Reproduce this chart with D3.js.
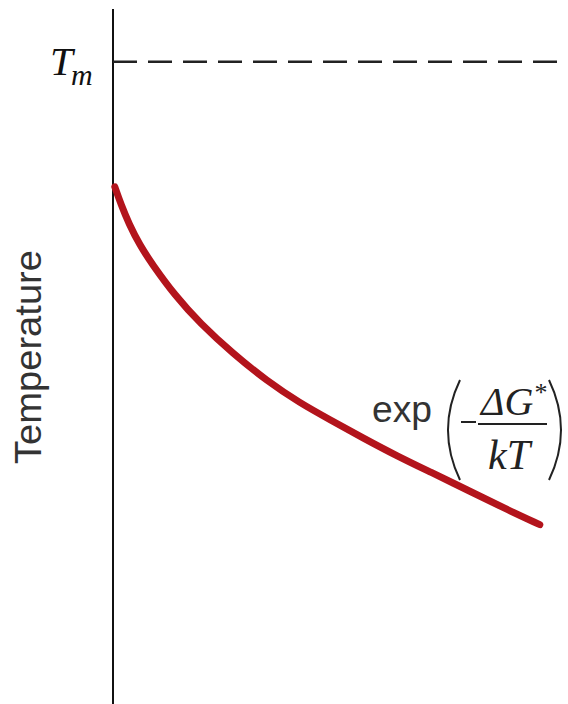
<!DOCTYPE html>
<html>
<head>
<meta charset="utf-8">
<script src="https://cdn.jsdelivr.net/npm/d3@7"></script>
<style>
  html, body { margin: 0; padding: 0; background: #fff; }
  svg { display: block; }
</style>
</head>
<body>
<svg id="chart"></svg>
<script>
// Curve values (arbitrary time units, temperature in % of axis)
const timeValues = [0.4, 1.8, 3.5, 5.9, 8.6, 13.6, 19.1, 26.4, 33.8, 41.1, 47.7, 54.9, 62.4, 69.7, 78.5, 86.2, 93.8];
const tempValues = [74.4, 71.8, 69.1, 66.0, 63.3, 58.8, 54.8, 50.4, 46.5, 43.3, 40.9, 38.3, 35.7, 33.4, 30.6, 28.1, 25.8];
const meltTemp = 92.4;
const yAxisLabel = "Temperature";

const width = 568, height = 704;

const svg = d3.select("#chart")
    .attr("width", width)
    .attr("height", height);

// Scales
const x = d3.scaleLinear().domain([0, 100]).range([113, 568]);
const y = d3.scaleLinear().domain([0, 100]).range([704, 9]);

// Vertical temperature axis
svg.append("line")
    .attr("x1", x(0)).attr("x2", x(0))
    .attr("y1", y(100)).attr("y2", y(0))
    .attr("stroke", "#111")
    .attr("stroke-width", 2);

// Melting temperature dashed line
svg.append("line")
    .attr("x1", x(0)).attr("x2", x(100))
    .attr("y1", y(meltTemp)).attr("y2", y(meltTemp))
    .attr("stroke", "#222")
    .attr("stroke-width", 2.5)
    .attr("stroke-dasharray", "24 11");

// T_m label
svg.append("text")
    .attr("x", 50)
    .attr("y", y(meltTemp) + 13)
    .attr("font-family", "Liberation Serif, serif")
    .attr("font-style", "italic")
    .attr("font-size", 41)
    .attr("fill", "#111")
    .text("T");
svg.append("text")
    .attr("x", 71)
    .attr("y", y(meltTemp) + 23)
    .attr("font-family", "Liberation Serif, serif")
    .attr("font-style", "italic")
    .attr("font-size", 30)
    .attr("fill", "#111")
    .text("m");

// Axis title
svg.append("text")
    .attr("transform", "translate(41," + 357 + ") rotate(-90)")
    .attr("text-anchor", "middle")
    .attr("font-family", "Liberation Sans, Arial, sans-serif")
    .attr("font-size", 36)
    .attr("textLength", 214)
    .attr("lengthAdjust", "spacingAndGlyphs")
    .attr("fill", "#333")
    .text(yAxisLabel);

// Nucleation curve
const data = timeValues.map((t, i) => ({ t: t, T: tempValues[i] }));
const line = d3.line()
    .x(d => x(d.t))
    .y(d => y(d.T))
    .curve(d3.curveBasis);

svg.append("path")
    .datum(data)
    .attr("d", line)
    .attr("fill", "none")
    .attr("stroke", "#b3141c")
    .attr("stroke-width", 7)
    .attr("stroke-linecap", "round");

// Label exp(-ΔG*/kT)
const lab = svg.append("g").attr("fill", "#333");

lab.append("text")
    .attr("x", 372).attr("y", 422)
    .attr("font-family", "Liberation Sans, Arial, sans-serif")
    .attr("font-size", 37)
    .attr("textLength", 60)
    .attr("lengthAdjust", "spacingAndGlyphs")
    .text("exp");

// parentheses
lab.append("path")
    .attr("d", "M460,380 Q436,430 460,480")
    .attr("fill", "none")
    .attr("stroke", "#222")
    .attr("stroke-width", 2);
lab.append("path")
    .attr("d", "M549,380 Q573,430 549,480")
    .attr("fill", "none")
    .attr("stroke", "#222")
    .attr("stroke-width", 2);

// minus sign
lab.append("line")
    .attr("x1", 461).attr("x2", 476)
    .attr("y1", 422).attr("y2", 422)
    .attr("stroke", "#222")
    .attr("stroke-width", 2);

// fraction bar
lab.append("line")
    .attr("x1", 478).attr("x2", 547)
    .attr("y1", 424).attr("y2", 424)
    .attr("stroke", "#222")
    .attr("stroke-width", 2);

const num = lab.append("text")
    .attr("x", 481).attr("y", 415)
    .attr("font-family", "Liberation Serif, serif")
    .attr("font-style", "italic")
    .attr("font-size", 40)
    .attr("fill", "#222");
num.append("tspan").text("ΔG");
num.append("tspan")
    .attr("dx", 1)
    .attr("dy", -14)
    .attr("font-size", 26)
    .attr("font-style", "normal")
    .text("*");

lab.append("text")
    .attr("x", 488).attr("y", 469)
    .attr("font-family", "Liberation Serif, serif")
    .attr("font-style", "italic")
    .attr("font-size", 42)
    .attr("fill", "#222")
    .text("kT");
</script>
</body>
</html>
